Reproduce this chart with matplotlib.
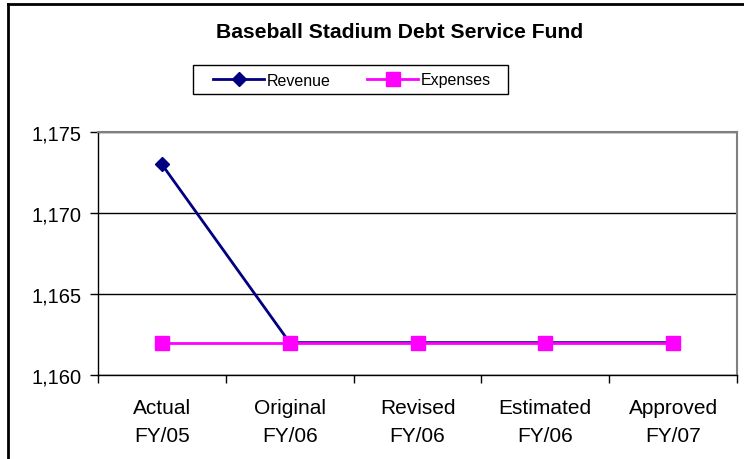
import matplotlib
matplotlib.use("Agg")
import matplotlib.pyplot as plt
from matplotlib.lines import Line2D
from matplotlib.patches import Rectangle

plt.rcParams['font.family'] = ['Liberation Sans', 'DejaVu Sans']

categories = ["Actual\nFY/05", "Original\nFY/06", "Revised\nFY/06", "Estimated\nFY/06", "Approved\nFY/07"]
revenue = [1173, 1162, 1162, 1162, 1162]
expenses = [1162, 1162, 1162, 1162, 1162]
y_ticks = [1160, 1165, 1170, 1175]
title = "Baseball Stadium Debt Service Fund"

W, H = 744, 460
fig = plt.figure(figsize=(W / 100, H / 100), dpi=100)
ax = fig.add_axes([98/W, 1 - 376/H, (737-98)/W, (376-133)/H])

x = list(range(len(categories)))
ax.plot(x, revenue, color='#000080', lw=2, marker='D', ms=7, mfc='#000080', mec='#000080',
        label='Revenue', zorder=3)
ax.plot(x, expenses, color='#FF00FF', lw=2, marker='s', ms=10, mfc='#FF00FF', mec='#FF00FF',
        label='Expenses', zorder=4)

ax.set_xlim(-0.5, len(categories) - 0.5)
ax.set_ylim(y_ticks[0], y_ticks[-1])
ax.set_yticks(y_ticks)
ax.set_yticklabels([f"{v:,}" for v in y_ticks], fontsize=14.5)
ax.set_xticks([i - 0.5 for i in range(len(categories) + 1)])
ax.set_xticklabels([])
ax.set_xticks(x, minor=True)
ax.set_xticklabels(categories, minor=True, fontsize=15, linespacing=1.6)
ax.tick_params(axis='x', which='minor', length=0, pad=16.5)
ax.tick_params(axis='x', which='major', direction='out', length=6, width=1, color='black')
ax.tick_params(axis='y', direction='out', length=6, width=1, color='black', pad=6)

ax.yaxis.grid(True, color='black', lw=1)
ax.set_axisbelow(True)
for s in ['top', 'right']:
    ax.spines[s].set_color('#808080')
    ax.spines[s].set_linewidth(1.5)
for s in ['left', 'bottom']:
    ax.spines[s].set_color('black')
    ax.spines[s].set_linewidth(1)

fig.text(400/W, 1 - 32/H, title, ha='center', va='center', fontsize=15.2, fontweight='bold')

# legend
fig.add_artist(Rectangle((193/W, 1 - 95/H), (508-193)/W, (95-66)/H, transform=fig.transFigure,
                         facecolor='white', edgecolor='black', lw=1, zorder=5))
handles = [Line2D([], [], color='#000080', lw=2, marker='D', ms=7, mfc='#000080', mec='#000080'),
           Line2D([], [], color='#FF00FF', lw=2, marker='s', ms=10, mfc='#FF00FF', mec='#FF00FF')]
leg = fig.legend(handles, ['Revenue', 'Expenses'], loc='center', ncol=2,
                 bbox_to_anchor=(352/W, 1 - 81/H), fontsize=11.5, frameon=False,
                 handlelength=3.2, handletextpad=0.15, columnspacing=2.3,
                 borderpad=0.2, borderaxespad=0)
leg.set_zorder(6)

# outer chart border (left and top visible)
fig.add_artist(Line2D([8/W, 8/W], [0, 1 - 5/H], color='black', lw=2, transform=fig.transFigure))
fig.add_artist(Line2D([8/W, 1], [1 - 5/H, 1 - 5/H], color='black', lw=2, transform=fig.transFigure))

fig.savefig("out.png", dpi=100)
